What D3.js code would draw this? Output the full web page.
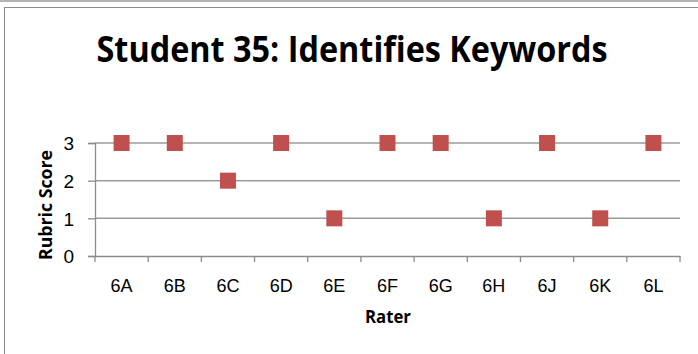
<!DOCTYPE html>
<html>
<head>
<meta charset="utf-8">
<script src="https://cdn.jsdelivr.net/npm/d3@7"></script>
<style>
  body { margin: 0; background: #fff; }
  svg { display: block; font-family: "Open Sans", "Noto Sans", sans-serif; }
</style>
</head>
<body>
<div class="chart"></div>
<script>
const raters = ["6A", "6B", "6C", "6D", "6E", "6F", "6G", "6H", "6J", "6K", "6L"];
const scores = [3, 3, 2, 3, 1, 3, 3, 1, 3, 1, 3];
const yTicks = [0, 1, 2, 3];

const width = 698, height = 354;
const plot = { left: 95, right: 680, top: 143, bottom: 256 };

const svg = d3.select(".chart").append("svg")
  .attr("width", width)
  .attr("height", height);

// outer frame
svg.append("line").attr("x1", 0).attr("x2", width).attr("y1", 1).attr("y2", 1)
  .style("stroke", "#9a9a9a").style("stroke-width", 1.5);
svg.append("rect")
  .attr("x", 4.5).attr("y", 7.5)
  .attr("width", width + 10).attr("height", height)
  .style("fill", "none").style("stroke", "#8c8c8c").style("stroke-width", 1);

const x = d3.scaleBand().domain(raters).range([plot.left, plot.right]);
const y = d3.scaleLinear().domain([0, 3]).range([plot.bottom, plot.top]);

// gridlines
svg.append("g")
  .selectAll("line")
  .data(yTicks.filter((t) => t > 0))
  .enter()
  .append("line")
  .attr("x1", plot.left).attr("x2", plot.right)
  .attr("y1", (d) => y(d)).attr("y2", (d) => y(d))
  .style("stroke", "#9b9b9b").style("stroke-width", 1.5);

// y axis
const yAxis = svg.append("g")
  .attr("transform", `translate(${plot.left},0)`)
  .call(d3.axisLeft(y).tickValues(yTicks).tickFormat(d3.format("d")).tickSize(7).tickPadding(14));
yAxis.selectAll("line, path").style("stroke", "#8c8c8c").style("stroke-width", 1.3);
yAxis.selectAll("text").style("font-size", "19px").style("fill", "#000").attr("dy", "0.36em");

// x axis
const xAxis = svg.append("g")
  .attr("transform", `translate(0,${plot.bottom})`)
  .call(d3.axisBottom(x).tickSize(0).tickPadding(0));
xAxis.select(".domain").style("stroke", "#8c8c8c").style("stroke-width", 1.3);
xAxis.selectAll("text")
  .attr("y", 36).attr("dy", 0)
  .style("font-size", "18px").style("fill", "#000");
svg.append("g")
  .selectAll("line")
  .data(raters.concat([null]))
  .enter()
  .append("line")
  .attr("x1", (d, i) => plot.left + i * x.step())
  .attr("x2", (d, i) => plot.left + i * x.step())
  .attr("y1", plot.bottom).attr("y2", plot.bottom + 6)
  .style("stroke", "#8c8c8c").style("stroke-width", 1.3);

// markers
const size = 16;
svg.append("g")
  .selectAll("rect")
  .data(raters.map((r, i) => ({ rater: r, score: scores[i] })))
  .enter()
  .append("rect")
  .attr("x", (d) => x(d.rater) + x.bandwidth() / 2 - size / 2)
  .attr("y", (d) => y(d.score) - size / 2)
  .attr("width", size).attr("height", size)
  .style("fill", "#c0504d");

// title
svg.append("text")
  .attr("x", 352).attr("y", 62)
  .attr("text-anchor", "middle")
  .attr("textLength", 511)
  .attr("lengthAdjust", "spacingAndGlyphs")
  .style("font-weight", "bold")
  .style("font-size", "36px")
  .text("Student 35: Identifies Keywords");

svg.append("text")
  .attr("x", 388).attr("y", 323)
  .attr("text-anchor", "middle")
  .attr("textLength", 46)
  .attr("lengthAdjust", "spacingAndGlyphs")
  .style("font-weight", "bold").style("font-size", "18px")
  .text("Rater");

svg.append("text")
  .attr("transform", "translate(52,205) rotate(-90)")
  .attr("text-anchor", "middle")
  .attr("textLength", 110)
  .attr("lengthAdjust", "spacingAndGlyphs")
  .style("font-weight", "bold").style("font-size", "18px")
  .text("Rubric Score");
</script>
</body>
</html>
